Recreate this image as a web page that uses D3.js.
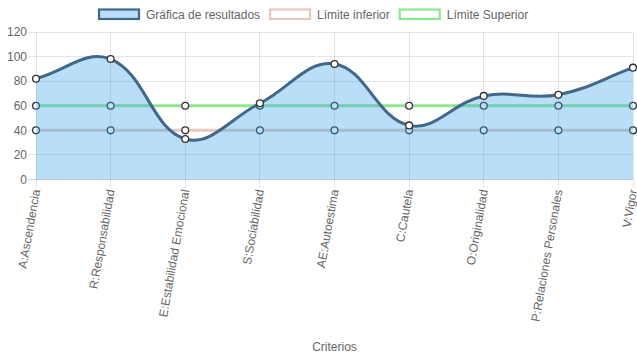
<!DOCTYPE html>
<html><head><meta charset="utf-8">
<script src="https://cdn.jsdelivr.net/npm/d3@7/dist/d3.min.js"></script>
<style>
html,body{margin:0;padding:0;background:#fff;}
svg{display:block;font-family:"Liberation Sans",Arial,Helvetica,sans-serif;}
</style></head>
<body>
<svg id="chart" width="637" height="359"></svg>
<script>
const categories = ["A:Ascendencia","R:Responsabilidad","E:Estabilidad Emocional","S:Sociabilidad","AE:Autoestima","C:Cautela","O:Originalidad","P:Relaciones Personales","V:Vigor"];
const resultados = [82, 98, 33, 62, 94, 44, 68, 69, 91];
const limiteInferior = [40, 40, 40, 40, 40, 40, 40, 40, 40];
const limiteSuperior = [60, 60, 60, 60, 60, 60, 60, 60, 60];
const yTicks = [0, 20, 40, 60, 80, 100, 120];
const legendLabels = ["Gráfica de resultados", "Límite inferior", "Límite Superior"];
const axisTitle = "Criterios";

const W = 637, H = 359;
const pLeft = 36, pRight = 633, pTop = 32, pBottom = 179.5;
const svg = d3.select("#chart");
const x = d3.scalePoint().domain(categories).range([pLeft, pRight]);
const y = d3.scaleLinear().domain([0, 120]).range([pBottom, pTop]);
const textColor = "#666";

// grid
const grid = svg.append("g");
yTicks.forEach(t => {
  grid.append("line").attr("x1", pLeft - 8).attr("x2", pRight).attr("y1", y(t)).attr("y2", y(t))
    .attr("stroke", t === 0 ? "rgba(0,0,0,0.18)" : "rgba(0,0,0,0.1)").attr("stroke-width", 1).attr("shape-rendering","crispEdges");
});
categories.forEach(c => {
  grid.append("line").attr("x1", x(c)).attr("x2", x(c)).attr("y1", pTop).attr("y2", pBottom + 8)
    .attr("stroke", "rgba(0,0,0,0.1)").attr("stroke-width", 1).attr("shape-rendering","crispEdges");
});

// y tick labels
svg.append("g").selectAll("text").data(yTicks).join("text")
  .attr("x", 27).attr("y", d => y(d)).attr("dy", "0.35em")
  .attr("text-anchor", "end").attr("font-size", 12).attr("fill", textColor).text(d => d);

// x labels
svg.append("g").selectAll("text").data(categories).join("text")
  .attr("transform", d => `translate(${x(d)},${pBottom + 10}) rotate(-80)`)
  .attr("text-anchor", "end").attr("dy", "0.35em")
  .attr("font-size", 12).attr("fill", textColor).text(d => d);

svg.append("text").attr("x", (pLeft + pRight) / 2).attr("y", 347).attr("dy", "0.35em")
  .attr("text-anchor", "middle").attr("font-size", 12).attr("fill", textColor).text(axisTitle);

// Chart.js-like spline
function splinePath(values, closeToBase) {
  const pts = values.map((v, i) => ({x: x(categories[i]), y: y(v)}));
  const t = 0.4;
  const cps = pts.map((p, i) => {
    const prev = i === 0 ? p : pts[i - 1];
    const next = i === pts.length - 1 ? p : pts[i + 1];
    const d01 = Math.hypot(p.x - prev.x, p.y - prev.y);
    const d12 = Math.hypot(next.x - p.x, next.y - p.y);
    let s01 = d01 / (d01 + d12), s12 = d12 / (d01 + d12);
    if (isNaN(s01)) s01 = 0; if (isNaN(s12)) s12 = 0;
    const fa = t * s01, fb = t * s12;
    const cap = q => ({x: Math.max(pLeft, Math.min(pRight, q.x)), y: Math.max(pTop, Math.min(pBottom, q.y))});
    return {
      prev: cap({x: p.x - fa * (next.x - prev.x), y: p.y - fa * (next.y - prev.y)}),
      next: cap({x: p.x + fb * (next.x - prev.x), y: p.y + fb * (next.y - prev.y)})
    };
  });
  const path = d3.path();
  path.moveTo(pts[0].x, pts[0].y);
  for (let i = 1; i < pts.length; i++) {
    path.bezierCurveTo(cps[i - 1].next.x, cps[i - 1].next.y, cps[i].prev.x, cps[i].prev.y, pts[i].x, pts[i].y);
  }
  if (closeToBase) {
    path.lineTo(pts[pts.length - 1].x, y(0));
    path.lineTo(pts[0].x, y(0));
    path.closePath();
  }
  return path.toString();
}

const datasets = [
  {values: resultados, stroke: "#41678a", fill: "rgba(54,162,235,0.35)", area: true},
  {values: limiteInferior, stroke: "#e6c8bc", fill: "#fff", area: false},
  {values: limiteSuperior, stroke: "#8ee68e", fill: "#fff", area: false}
];

// draw in reverse order (first dataset on top)
datasets.slice().reverse().forEach(ds => {
  const g = svg.append("g");
  if (ds.area) {
    g.append("path").attr("d", splinePath(ds.values, true)).attr("fill", ds.fill).attr("stroke", "none");
  }
  g.append("path").attr("d", splinePath(ds.values, false)).attr("fill", "none")
    .attr("stroke", ds.stroke).attr("stroke-width", 3);
  g.selectAll("circle").data(ds.values).join("circle")
    .attr("cx", (d, i) => x(categories[i])).attr("cy", d => y(d)).attr("r", 3.4)
    .attr("fill", "#fff").attr("stroke", "#333").attr("stroke-width", 1.3);
});

// legend
const legend = svg.append("g");
let lx = 0;
legendLabels.forEach((lab, i) => {
  const ds = datasets[i];
  const it = legend.append("g").attr("transform", `translate(${lx},0)`);
  it.append("rect").attr("x", 1).attr("y", 9.5).attr("width", 40).attr("height", 9.5)
    .attr("fill", ds.area ? "#b9dcf7" : "#fff").attr("stroke", ds.stroke).attr("stroke-width", 2.2);
  const tx = it.append("text").attr("x", 48).attr("y", 14.5).attr("dy", "0.35em")
    .attr("font-size", 12).attr("fill", textColor).text(lab);
  const w = 48 + tx.node().getComputedTextLength() + 9;
  lx += w;
});
legend.attr("transform", `translate(98,0)`);
</script>
</body></html>
